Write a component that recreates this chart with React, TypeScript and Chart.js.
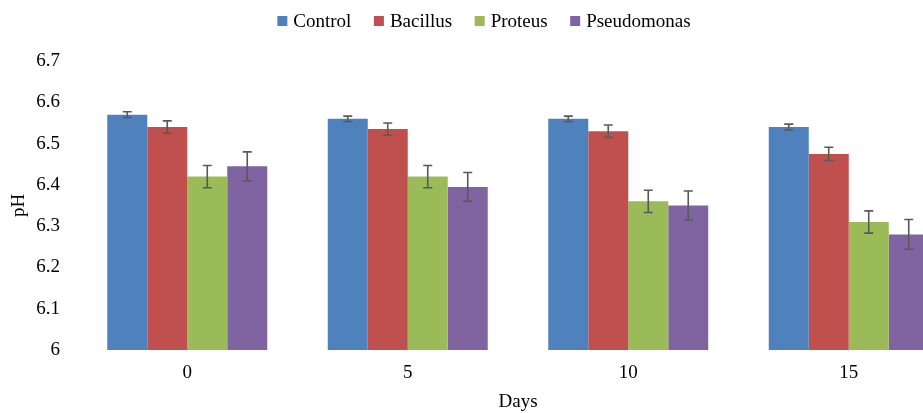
import React, { useEffect, useRef } from "react";
import { Chart, registerables } from "chart.js";

Chart.register(...registerables);

const days = ["0", "5", "10", "15"];
const seriesNames = ["Control", "Bacillus", "Proteus", "Pseudomonas"];
const control = [6.57, 6.56, 6.56, 6.54];
const bacillus = [6.54, 6.535, 6.53, 6.475];
const proteus = [6.42, 6.42, 6.36, 6.31];
const pseudomonas = [6.445, 6.395, 6.35, 6.28];
const controlErr = [0.007, 0.0065, 0.0065, 0.007];
const bacillusErr = [0.015, 0.015, 0.015, 0.016];
const proteusErr = [0.027, 0.027, 0.027, 0.027];
const pseudomonasErr = [0.035, 0.035, 0.035, 0.036];
const colors = ["#4F81BD", "#C0504D", "#9BBB59", "#8064A2"];

const FONT = "'Liberation Serif', 'Times New Roman', serif";

const errorBarPlugin = {
  id: "errorBars",
  afterDatasetsDraw(chart: any) {
    const ctx = chart.ctx;
    const yScale = chart.scales.y;
    ctx.save();
    ctx.strokeStyle = "#595959";
    ctx.lineWidth = 1.6;
    chart.data.datasets.forEach((ds: any, di: number) => {
      const meta = chart.getDatasetMeta(di);
      meta.data.forEach((bar: any, i: number) => {
        const v = ds.data[i];
        const e = ds.errors[i];
        const yTop = yScale.getPixelForValue(v + e);
        const yBot = yScale.getPixelForValue(v - e);
        const x = bar.x;
        const cap = 4.5;
        ctx.beginPath();
        ctx.moveTo(x, yTop);
        ctx.lineTo(x, yBot);
        ctx.moveTo(x - cap, yTop);
        ctx.lineTo(x + cap, yTop);
        ctx.moveTo(x - cap, yBot);
        ctx.lineTo(x + cap, yBot);
        ctx.stroke();
      });
    });
    ctx.restore();
  },
};

const legendPlugin = {
  id: "customLegend",
  afterDraw(chart: any) {
    const ctx = chart.ctx;
    ctx.save();
    ctx.font = `19px ${FONT}`;
    const box = 10;
    const gap = 6;
    const spacing = 22.5;
    const items = chart.data.datasets.map((ds: any) => ({
      label: ds.label,
      color: ds.backgroundColor,
      w: box + gap + ctx.measureText(ds.label).width,
    }));
    const total =
      items.reduce((s: number, it: any) => s + it.w, 0) + spacing * (items.length - 1);
    let x = chart.width / 2 - total / 2;
    const cy = 21;
    ctx.textBaseline = "middle";
    ctx.textAlign = "left";
    items.forEach((it: any) => {
      ctx.fillStyle = it.color;
      ctx.fillRect(x, cy - box / 2, box, box);
      ctx.fillStyle = "#000";
      ctx.fillText(it.label, x + box + gap, cy + 1);
      x += it.w + spacing;
    });
    ctx.restore();
  },
};

export default function App() {
  const ref = useRef<HTMLCanvasElement | null>(null);
  useEffect(() => {
    if (!ref.current) return;
    const values = [control, bacillus, proteus, pseudomonas];
    const errs = [controlErr, bacillusErr, proteusErr, pseudomonasErr];
    const chart = new Chart(ref.current, {
      type: "bar",
      data: {
        labels: days,
        datasets: seriesNames.map((name, i) => ({
          label: name,
          data: values[i],
          errors: errs[i],
          backgroundColor: colors[i],
          borderWidth: 0,
          categoryPercentage: 0.7256,
          barPercentage: 1,
        })) as any,
      },
      options: {
        responsive: false,
        animation: false,
        layout: { padding: { top: 61, right: 9, left: 0, bottom: 0 } },
        plugins: {
          legend: { display: false },
          tooltip: { enabled: false },
        },
        scales: {
          x: {
            grid: { display: false, drawTicks: false },
            border: { display: false },
            ticks: {
              color: "#000",
              font: { family: FONT, size: 19 },
              padding: 12,
            },
            title: {
              display: true,
              text: "Days",
              color: "#000",
              font: { family: FONT, size: 19 },
              padding: { top: 4, bottom: 0 },
            },
            afterFit: (scale: any) => {
              scale.height = 63;
            },
          },
          y: {
            min: 6,
            max: 6.7,
            grid: { display: false, drawTicks: false },
            border: { display: false },
            ticks: {
              stepSize: 0.1,
              color: "#000",
              font: { family: FONT, size: 19 },
              padding: 17,
              callback: (v: any) => String(Number(Number(v).toFixed(1))),
            },
            title: {
              display: true,
              text: "pH",
              color: "#000",
              font: { family: FONT, size: 19 },
              padding: { top: 8, bottom: 0 },
            },
            afterFit: (scale: any) => {
              scale.width = 77;
            },
          },
        },
      },
      plugins: [errorBarPlugin, legendPlugin],
    });
    return () => chart.destroy();
  }, []);
  return (
    <div
      style={{
        position: "absolute",
        left: 0,
        top: 0,
        width: 923,
        height: 413,
        overflow: "hidden",
        background: "#fff",
      }}
    >
      <canvas ref={ref} width={968} height={413} style={{ width: 968, height: 413 }} />
    </div>
  );
}
